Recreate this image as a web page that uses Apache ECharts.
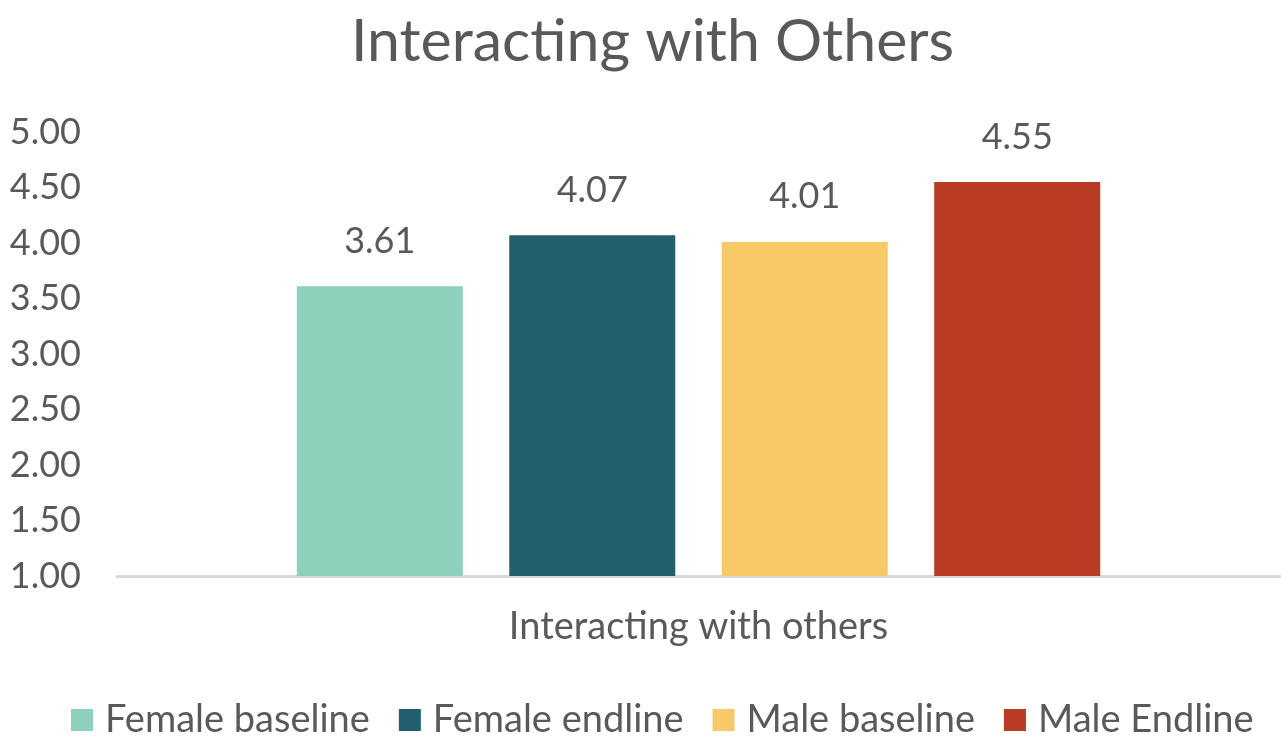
<!DOCTYPE html>
<html>
<head>
<meta charset="utf-8">
<script src="https://cdn.jsdelivr.net/npm/echarts@6/dist/echarts.min.js"></script>
<style>
  html, body { margin: 0; padding: 0; background: #fff; }
  #chart { width: 1281px; height: 737px; }
</style>
</head>
<body>
<div id="chart"></div>
<script>
// Mean scores for the "Interacting with others" domain
const categories = ['Interacting with others'];
const seriesNames = ['Female baseline', 'Female endline', 'Male baseline', 'Male Endline'];
const seriesValues = [[3.61], [4.07], [4.01], [4.55]];
const seriesColors = ['#8DD1BC', '#235E6E', '#F8C967', '#B93B23'];
const yTicks = [1, 1.5, 2, 2.5, 3, 3.5, 4, 4.5, 5];

const FONT = 'Lato';
const TEXT = '#595959';

const chart = echarts.init(document.getElementById('chart'));

chart.setOption({
  animation: false,
  textStyle: { fontFamily: FONT },
  title: {
    text: 'Interacting with Others',
    left: 346,
    top: 7,
    textStyle: { fontFamily: FONT, fontSize: 59, fontWeight: 'normal', color: TEXT }
  },
  legend: {
    bottom: -7,
    left: 66,
    itemWidth: 22,
    itemHeight: 22,
    itemGap: 29,
    icon: 'rect',
    textStyle: { fontFamily: FONT, fontSize: 38, color: TEXT, padding: [0, 0, 0, 7] }
  },
  grid: { left: 117, right: 1, top: 132, bottom: 161 },
  xAxis: {
    type: 'category',
    data: categories,
    axisLine: { lineStyle: { color: '#D9D9D9', width: 3 } },
    axisTick: { show: false },
    axisLabel: { fontFamily: FONT, fontSize: 38, color: TEXT, margin: 32 }
  },
  yAxis: {
    type: 'value',
    min: yTicks[0],
    max: yTicks[yTicks.length - 1],
    interval: 0.5,
    splitLine: { show: false },
    axisLine: { show: false },
    axisTick: { show: false },
    axisLabel: {
      fontFamily: FONT, fontSize: 36, color: TEXT, margin: 36,
      formatter: v => v.toFixed(2)
    }
  },
  series: seriesNames.map((name, i) => ({
    name,
    type: 'bar',
    data: seriesValues[i],
    barWidth: 166,
    barGap: '28%',
    itemStyle: { color: seriesColors[i] },
    label: {
      show: true,
      position: 'top',
      distance: 27,
      fontFamily: FONT,
      fontSize: 36,
      color: TEXT,
      formatter: p => p.value.toFixed(2)
    }
  }))
});
</script>
</body>
</html>
